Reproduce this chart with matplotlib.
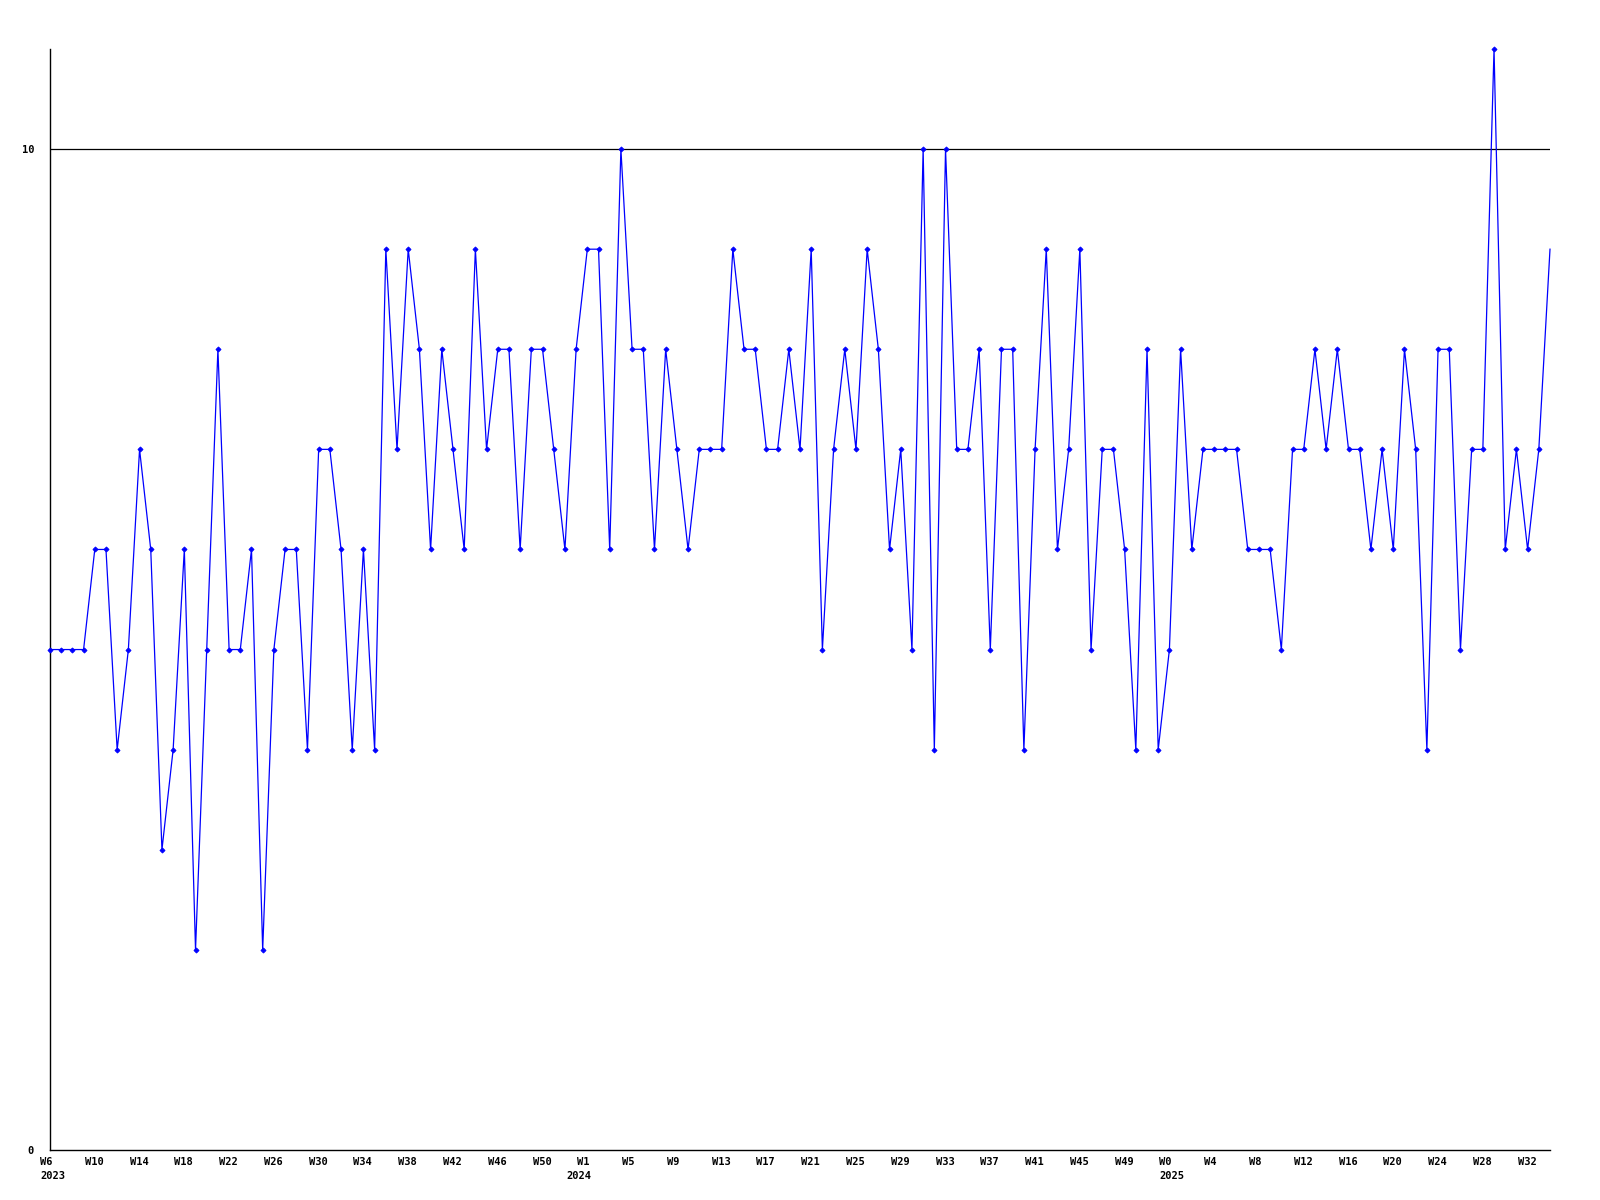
import matplotlib
matplotlib.use("Agg")
import matplotlib.pyplot as plt
import matplotlib.transforms as mtransforms

values = [
    5, 5, 5, 5, 6, 6, 4, 5, 7, 6,
    3, 4, 6, 2, 5, 8, 5, 5, 6, 2,
    5, 6, 6, 4, 7, 7, 6, 4, 6, 4,
    9, 7, 9, 8, 6, 8, 7, 6, 9, 7,
    8, 8, 6, 8, 8, 7, 6, 8, 9, 9,
    6, 10, 8, 8, 6, 8, 7, 6, 7, 7,
    7, 9, 8, 8, 7, 7, 8, 7, 9, 5,
    7, 8, 7, 9, 8, 6, 7, 5, 10, 4,
    10, 7, 7, 8, 5, 8, 8, 4, 7, 9,
    6, 7, 9, 5, 7, 7, 6, 4, 8, 4,
    5, 8, 6, 7, 7, 7, 7, 6, 6, 6,
    5, 7, 7, 8, 7, 8, 7, 7, 6, 7,
    6, 8, 7, 4, 8, 8, 5, 7, 7, 11,
    6, 7, 6, 7, 9,
]

tick_positions = [0, 4, 8, 12, 16, 20, 24, 28, 32, 36, 40, 44,
                  48, 52, 56, 60, 64, 68, 72, 76, 80, 84, 88, 92, 96,
                  100, 104, 108, 112, 116, 120, 124, 128, 132]
tick_labels = ["W6", "W10", "W14", "W18", "W22", "W26", "W30", "W34",
               "W38", "W42", "W46", "W50",
               "W1", "W5", "W9", "W13", "W17", "W21", "W25", "W29",
               "W33", "W37", "W41", "W45", "W49",
               "W0", "W4", "W8", "W12", "W16", "W20", "W24", "W28", "W32"]
year_positions = [0, 48, 100]
year_labels = ["2023", "2024", "2025"]
y_ticks = [0, 10]
y_tick_labels = ["0", "10"]

DPI = 100
fig = plt.figure(figsize=(16, 12), dpi=DPI)
ax = fig.add_axes([50 / 1600, 1 - 1150 / 1200, 1500 / 1600, (1150 - 49) / 1200])

x = list(range(len(values)))
ax.plot(x, values, color="#0000ff", linewidth=0.9, marker="D", markersize=2.6,
        markeredgewidth=0.6, markerfacecolor="#0000ff", markeredgecolor="#0000ff",
        markevery=slice(0, len(values) - 1), zorder=3, clip_on=False)

ax.axhline(10, color="black", linewidth=0.9, zorder=1)

ax.set_xlim(0, len(values) - 1)
ax.set_ylim(0, 11)

ax.spines["top"].set_visible(False)
ax.spines["right"].set_visible(False)
ax.spines["left"].set_linewidth(1.0)
ax.spines["bottom"].set_linewidth(1.0)

font = dict(family="DejaVu Sans Mono", weight="bold", size=7.5)
ax.set_yticks(y_ticks)
ax.set_yticklabels(y_tick_labels, **font)
ax.set_xticks(tick_positions)
ax.set_xticklabels(tick_labels, ha="left", **font)
ax.tick_params(axis="y", length=0, pad=11.5)
ax.tick_params(axis="x", length=0, pad=5)

shift = mtransforms.ScaledTranslation(-10 / DPI, 0, fig.dpi_scale_trans)
for lbl in ax.get_xticklabels():
    lbl.set_transform(lbl.get_transform() + shift)

year_offsets = [-10, -21, -10]
base = mtransforms.blended_transform_factory(ax.transData, ax.transAxes)
for pos, lab, off in zip(year_positions, year_labels, year_offsets):
    tr = base + mtransforms.ScaledTranslation(off / DPI, -21 / DPI, fig.dpi_scale_trans)
    ax.text(pos, 0, lab, transform=tr, ha="left", va="top", **font)

fig.savefig("out.png", dpi=DPI, facecolor="white")
